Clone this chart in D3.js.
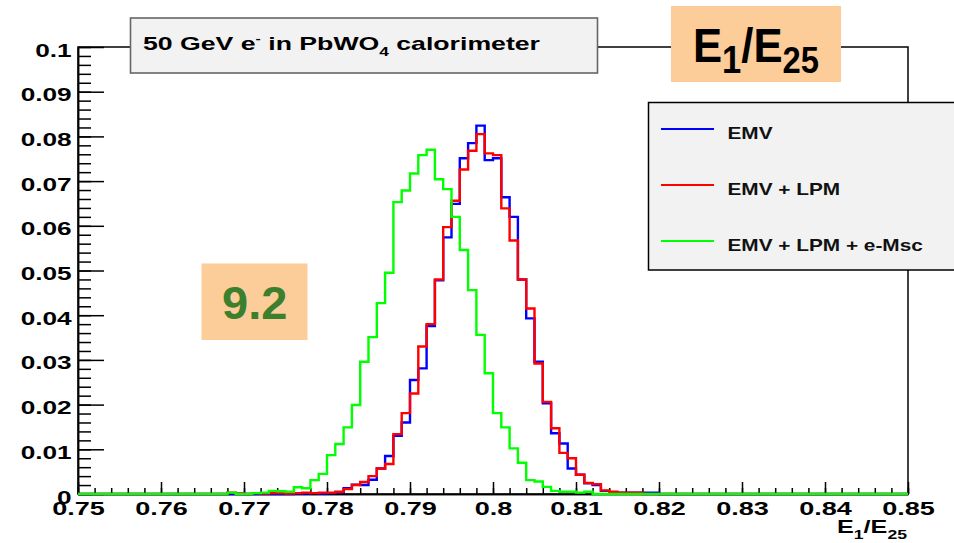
<!DOCTYPE html>
<html lang="en">
<head>
<meta charset="UTF-8">
<script src="https://cdn.jsdelivr.net/npm/d3@7"></script>
<title>E1/E25 - 50 GeV e- in PbWO4</title>
<style>
  body { margin: 0; background: #fff; }
  text { font-family: "Liberation Sans", Arial, sans-serif; font-weight: bold; }
</style>
</head>
<body>
<div id="viz"></div>
<script>
// histogram binning: 100 bins of 0.001 starting at 0.75
const binStart = 0.75
const binWidth = 0.001

// bin contents (index 0 = 0.750-0.751)
const emv = [
  0, 0, 0, 0, 0, 0, 0, 0, 0, 0,
  0, 0, 0, 0, 0, 0, 0, 0, 0, 0,
  0, 0, 0, 0, 0, 0, 0.0001, 0.0001, 0.0002, 0.0001,
  0.0002, 0.0004, 0.0013, 0.0021, 0.0020, 0.0032, 0.0057, 0.0085, 0.0130, 0.0160,
  0.0255, 0.0281, 0.0376, 0.0478, 0.0574, 0.0649, 0.0751, 0.0785, 0.0824, 0.0747,
  0.0751, 0.0664, 0.0620, 0.0480, 0.0393, 0.0296, 0.0203, 0.0136, 0.0113, 0.0057,
  0.0043, 0.0024, 0.0020, 0.0007, 0.0003, 0.0003, 0.0003, 0.0003, 0.0003, 0.0003,
  0, 0, 0, 0, 0, 0, 0, 0, 0, 0,
  0, 0, 0, 0, 0, 0, 0, 0, 0, 0,
  0, 0, 0, 0, 0, 0, 0, 0, 0, 0
]
const emvLpm = [
  0, 0, 0, 0, 0, 0, 0, 0, 0, 0,
  0, 0, 0, 0, 0, 0, 0, 0, 0.0003, 0.0001,
  0, 0.0002, 0.0001, 0.0002, 0.0002, 0.0001, 0.0002, 0.0003, 0.0002, 0.0003,
  0.0003, 0.0005, 0.0011, 0.0020, 0.0027, 0.0040, 0.0057, 0.0067, 0.0134, 0.0181,
  0.0225, 0.0330, 0.0380, 0.0480, 0.0597, 0.0656, 0.0726, 0.0768, 0.0805, 0.0762,
  0.0758, 0.0639, 0.0567, 0.0480, 0.0415, 0.0292, 0.0206, 0.0147, 0.0092, 0.0080,
  0.0043, 0.0025, 0.0022, 0.0008, 0.0005, 0.0003, 0.0003, 0.0003, 0, 0,
  0, 0, 0, 0, 0, 0, 0, 0, 0, 0,
  0, 0, 0, 0, 0, 0, 0, 0, 0, 0,
  0, 0, 0, 0, 0, 0, 0, 0, 0, 0
]
const emvLpmMsc = [
  0, 0, 0, 0, 0, 0, 0, 0, 0, 0,
  0, 0, 0, 0, 0, 0, 0, 0, 0.0003, 0,
  0, 0.0002, 0.0003, 0.0007, 0.0006, 0.0005, 0.0015, 0.0013, 0.0031, 0.0045,
  0.0087, 0.0112, 0.0149, 0.0199, 0.0296, 0.0351, 0.0427, 0.0495, 0.0653, 0.0679,
  0.0717, 0.0758, 0.0770, 0.0704, 0.0682, 0.0620, 0.0546, 0.0456, 0.0356, 0.0270,
  0.0181, 0.0149, 0.0102, 0.0070, 0.0031, 0.0028, 0.0016, 0.0007, 0.0005, 0.0005,
  0.0003, 0.0005, 0, 0, 0, 0, 0, 0, 0, 0,
  0, 0, 0, 0, 0, 0, 0, 0, 0, 0,
  0, 0, 0, 0, 0, 0, 0, 0, 0, 0,
  0, 0, 0, 0, 0, 0, 0, 0, 0, 0
]

const seriesNames = ["EMV", "EMV + LPM", "EMV + LPM + e-Msc"]
const seriesColors = ["#0000ff", "#ff0000", "#00ff00"]

const xTicks = [0.75, 0.76, 0.77, 0.78, 0.79, 0.8, 0.81, 0.82, 0.83, 0.84, 0.85]
const yTicks = [0, 0.01, 0.02, 0.03, 0.04, 0.05, 0.06, 0.07, 0.08, 0.09, 0.1]

const fullWidth = 954
const fullHeight = 543
const margins = { top: 47, right: 46, bottom: 49, left: 78 }

const svg = d3.select("#viz")
    .append("svg")
    .attr("width", fullWidth)
    .attr("height", fullHeight)

const xScale = d3.scaleLinear()
    .domain([0.75, 0.85])
    .range([margins.left, fullWidth - margins.right])
const yScale = d3.scaleLinear()
    .domain([0, 0.1])
    .range([fullHeight - margins.bottom, margins.top])

// minor ticks every 0.002 on both axes
const xMinor = d3.range(0, 51).map(i => +(0.75 + i * 0.002).toFixed(3))
const yMinor = d3.range(0, 51).map(i => +(i * 0.002).toFixed(3))

// frame
svg.append("rect")
    .attr("x", xScale(0.75)).attr("y", yScale(0.1))
    .attr("width", xScale(0.85) - xScale(0.75))
    .attr("height", yScale(0) - yScale(0.1))
    .attr("fill", "none").attr("stroke", "#000").attr("stroke-width", 1.5)

const fmt = d => String(+d.toFixed(2))

// x axis (ticks pointing up into the frame)
svg.append("g")
    .attr("transform", `translate(0,${yScale(0)})`)
    .call(d3.axisBottom(xScale).tickValues(xMinor).tickSizeInner(-6).tickSizeOuter(0).tickFormat(""))
const xAx = svg.append("g")
    .attr("transform", `translate(0,${yScale(0)})`)
    .call(d3.axisBottom(xScale).tickValues(xTicks).tickSizeInner(-12).tickSizeOuter(0).tickFormat(fmt))
xAx.selectAll("text")
    .attr("y", 21).attr("dy", null)
    .attr("font-size", 18.8)
    .attr("fill", "#000")
    .attr("transform", "scale(1.44,1)")

// y axis
svg.append("g")
    .attr("transform", `translate(${xScale(0.75)},0)`)
    .call(d3.axisLeft(yScale).tickValues(yMinor).tickSizeInner(-13).tickSizeOuter(0).tickFormat(""))
const yAx = svg.append("g")
    .attr("transform", `translate(${xScale(0.75)},0)`)
    .call(d3.axisLeft(yScale).tickValues(yTicks).tickSizeInner(-26).tickSizeOuter(0).tickFormat(fmt))
yAx.selectAll("text")
    .attr("x", -4.6).attr("y", 9).attr("dy", null)
    .attr("font-size", 19)
    .attr("fill", "#000")
    .attr("transform", "scale(1.38,1)")

svg.selectAll(".domain, .tick line")
    .attr("stroke", "#000").attr("stroke-width", 1.5)

// histograms as step outlines
const stepLine = d3.line()
    .x(d => xScale(d[0]))
    .y(d => yScale(d[1]))
    .curve(d3.curveStepAfter)

const series = [emv, emvLpm, emvLpmMsc]
series.forEach((vals, k) => {
    const pts = vals.map((v, i) => [binStart + i * binWidth, v])
    pts.push([binStart + vals.length * binWidth, vals[vals.length - 1]])
    svg.append("path")
        .attr("d", stepLine(pts))
        .attr("fill", "none")
        .attr("stroke", seriesColors[k])
        .attr("stroke-width", 2.4)
})

// axis title
const xTitle = svg.append("text")
    .attr("x", 837).attr("y", 533)
    .attr("font-size", 18.6)
    .attr("textLength", 70).attr("lengthAdjust", "spacingAndGlyphs")
xTitle.append("tspan").text("E")
xTitle.append("tspan").attr("font-size", 13).attr("dy", 6).text("1")
xTitle.append("tspan").attr("dy", -6).text("/E")
xTitle.append("tspan").attr("font-size", 13).attr("dy", 6).text("25")

// title pave
svg.append("rect")
    .attr("x", 130.5).attr("y", 18).attr("width", 467).attr("height", 55)
    .attr("fill", "#f2f2f2").attr("stroke", "#666").attr("stroke-width", 1.6)
const title = svg.append("text")
    .attr("x", 143).attr("y", 49.5)
    .attr("font-size", 18.6)
    .attr("textLength", 397).attr("lengthAdjust", "spacingAndGlyphs")
title.append("tspan").text("50 GeV e")
title.append("tspan").attr("font-size", 11).attr("dy", -8).text("-")
title.append("tspan").attr("dy", 8).text(" in PbWO")
title.append("tspan").attr("font-size", 12).attr("dy", 6).text("4")
title.append("tspan").attr("dy", -6).text(" calorimeter")

// E1/E25 label box
svg.append("rect")
    .attr("x", 671).attr("y", 6).attr("width", 170).attr("height", 76)
    .attr("fill", "#fccc99")
const eLabel = svg.append("text")
    .attr("x", 693).attr("y", 62)
    .attr("font-size", 48)
    .attr("textLength", 126).attr("lengthAdjust", "spacingAndGlyphs")
eLabel.append("tspan").text("E")
eLabel.append("tspan").attr("font-size", 38).attr("dy", 10.7).text("1")
eLabel.append("tspan").attr("dy", -10.7).text("/E")
eLabel.append("tspan").attr("font-size", 36).attr("dy", 10.7).text("25")

// legend
svg.append("rect")
    .attr("x", 648.5).attr("y", 102.5).attr("width", 320).attr("height", 167.5)
    .attr("fill", "#f2f2f2").attr("stroke", "#000").attr("stroke-width", 1.5)
const legendLineY = [129, 185, 241]
seriesNames.forEach((name, k) => {
    svg.append("line")
        .attr("x1", 661).attr("x2", 714)
        .attr("y1", legendLineY[k]).attr("y2", legendLineY[k])
        .attr("stroke", seriesColors[k]).attr("stroke-width", 2)
    svg.append("text")
        .attr("transform", `translate(727.5,${legendLineY[k] + 9.5}) scale(1.3,1)`)
        .attr("font-size", 16)
        .attr("fill", "#111")
        .text(name)
})

// 9.2 annotation
svg.append("rect")
    .attr("x", 201.5).attr("y", 263.5).attr("width", 106).attr("height", 76.5)
    .attr("fill", "#fccc99")
svg.append("text")
    .attr("x", 254.7).attr("y", 319)
    .attr("text-anchor", "middle")
    .attr("font-size", 47)
    .attr("fill", "#3c7f2c")
    .text("9.2")
</script>
</body>
</html>
